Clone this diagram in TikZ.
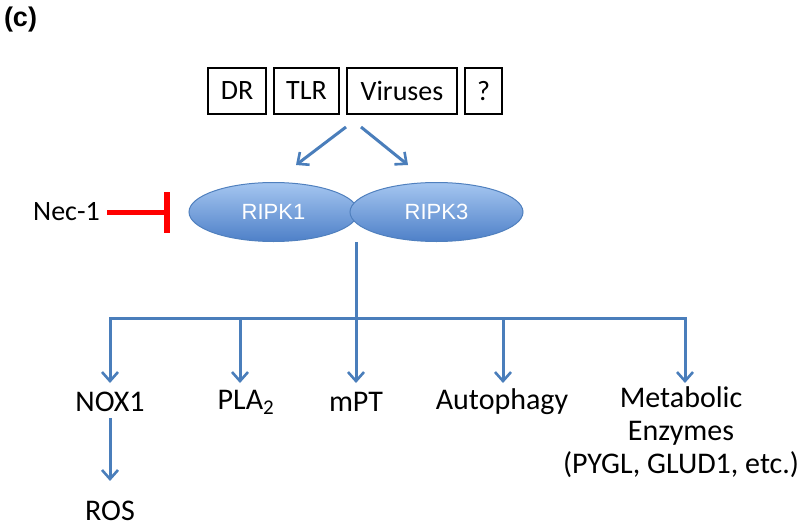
\documentclass[tikz,border=0pt]{standalone}
\usepackage{fontspec}
\setmainfont{Carlito}
\newfontfamily\arialf{Liberation Sans}
\usetikzlibrary{arrows.meta,shapes.geometric,calc}
\definecolor{arrowblue}{RGB}{74,126,187}
\definecolor{ellborder}{RGB}{80,128,190}
\definecolor{elltop}{RGB}{165,198,240}
\definecolor{ellbot}{RGB}{78,128,200}
\definecolor{necred}{RGB}{255,0,0}
\tikzset{
  srcbox/.style={draw=black, line width=1.1pt, minimum height=46pt, inner sep=0pt, font=\fontsize{28}{30}\selectfont, anchor=center},
  kinase/.style={ellipse, draw=ellborder, line width=1pt, top color=elltop, bottom color=ellbot, text=white, font=\arialf\fontsize{22}{24}\selectfont, inner sep=0pt},
  blarrow/.style={draw=arrowblue, line width=3pt, -{Straight Barb[length=9pt,width=16pt,line width=2.6pt]}},
  blline/.style={draw=arrowblue, line width=3pt},
  lbl/.style={font=\fontsize{30}{33}\selectfont, inner sep=0pt, align=center}
}
\begin{document}
\begin{tikzpicture}[x=1pt,y=-1pt]
\useasboundingbox (0,0) rectangle (800,527);
\node[font=\arialf\bfseries\fontsize{27}{29}\selectfont, inner sep=0pt] (c) at (20.5,20) {(c)};
% source boxes
\node[srcbox, minimum width=58pt] (dr) at (237,91) {DR};
\node[srcbox, minimum width=65pt] (tlr) at (306.5,91) {TLR};
\node[srcbox, minimum width=110pt] (vir) at (402,91) {Viruses};
\node[srcbox, minimum width=37pt] (q) at (483.5,91) {?};
% kinases
\node[kinase, minimum width=169pt, minimum height=59pt] (r1) at (273.5,212) {RIPK1};
\node[kinase, minimum width=173pt, minimum height=59pt] (r3) at (436.5,212) {RIPK3};
% arrows from sources
\coordinate (s1) at (346,127);
\coordinate (s2) at (361,127);
\coordinate (t1) at (296,165);
\coordinate (t2) at (408,165);
\draw[blarrow] (s1) -- (t1);
\draw[blarrow] (s2) -- (t2);
% Nec-1
\node[lbl, font=\fontsize{28}{30}\selectfont, anchor=east] (nec) at (100,212) {Nec-1};
\coordinate (barc) at (167,212);
\coordinate (nstart) at (107,212);
\draw[necred, line width=5pt] (nstart) -- (barc);
\draw[necred, line width=6pt] ($(barc)+(0,-20)$) -- ($(barc)+(0,21)$);
% trunk
\coordinate (top) at (356,242);
\coordinate (hub) at (356,318);
\coordinate (b1) at (110,318);
\coordinate (b2) at (240,318);
\coordinate (b4) at (503,318);
\coordinate (b5) at (685,318);
\draw[blline] (top) -- (hub);
\draw[blline, line cap=rect] (b1) -- (b5);
% outputs
\node[lbl] (nox) at (110,402) {NOX1};
\node[lbl] (pla) at (246,402) {PLA\textsubscript{2}};
\node[lbl] (mpt) at (356,402) {mPT};
\node[lbl] (aut) at (502,402) {Autophagy};
\node[lbl, anchor=north] (met) at (681,386) {Metabolic\\Enzymes\\(PYGL, GLUD1, etc.)};
\node[lbl] (ros) at (110,511) {ROS};
\draw[blarrow] (b1) -- (b1 |- 0,383);
\draw[blarrow] (b2) -- (b2 |- 0,383);
\draw[blarrow] (hub) -- (hub |- 0,383);
\draw[blarrow] (b4) -- (b4 |- 0,383);
\draw[blarrow] (b5) -- (b5 |- 0,383);
\draw[blarrow] ($(nox.south)+(0,6)$) -- ($(ros.north)+(0,-20)$);
\end{tikzpicture}
\end{document}
